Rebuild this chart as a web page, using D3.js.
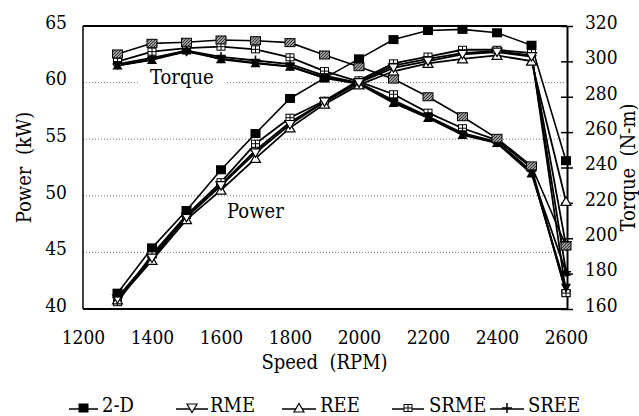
<!DOCTYPE html>
<html><head><meta charset="utf-8">
<script src="https://cdn.jsdelivr.net/npm/d3@7"></script>
<style>
html,body{margin:0;padding:0;background:#fff;}
</style></head>
<body><svg id="c" width="639" height="416"></svg>
<script>
const speed = [1300,1400,1500,1600,1700,1800,1900,2000,2100,2200,2300,2400,2500,2600];
const xTicks = [1200,1400,1600,1800,2000,2200,2400,2600];
const powerTicks = [40,45,50,55,60,65];
const torqueTicks = [160,180,200,220,240,260,280,300,320];
const gridValues = [45,50,55,60];

const seriesNames = ["2-D","RME","REE","SRME","SREE"];
const power2D   = [41.4,45.4,48.7,52.3,55.5,58.6,60.4,62.1,63.8,64.6,64.7,64.4,63.3,53.1];
const powerRME  = [40.9,44.5,48.1,50.9,53.8,56.3,58.3,60.0,61.3,61.9,62.5,62.7,62.3,45.6];
const powerREE  = [40.8,44.3,47.9,50.5,53.3,56.0,58.1,59.8,61.0,61.7,62.1,62.4,61.9,49.5];
const powerSRME = [40.6,44.8,48.3,51.2,54.6,56.9,58.4,60.2,61.7,62.3,62.9,62.9,62.6,41.4];
const powerSREE = [41.0,44.6,48.2,51.0,54.0,56.5,58.3,60.1,61.5,62.1,62.6,62.8,62.4,43.3];

const torque2D   = [304.2,310.2,310.8,312.1,311.7,310.6,303.6,297.0,290.0,280.0,268.7,256.5,240.9,195.6];
const torqueRME  = [297.8,301.0,305.5,301.5,299.2,297.2,291.0,287.5,277.0,268.5,258.8,254.0,237.0,172.0];
const torqueREE  = [297.6,300.8,306.2,301.2,298.9,297.0,290.6,287.3,276.5,268.0,258.4,253.8,236.6,181.0];
const torqueSRME = [299.8,305.5,307.5,308.3,306.8,302.3,294.5,288.5,281.4,271.0,262.2,255.5,240.0,169.0];
const torqueSREE = [298.5,302.0,306.0,302.5,300.5,298.5,292.0,287.8,278.0,269.0,259.5,254.5,238.0,170.0];

const FONT = "'DejaVu Serif Condensed', 'DejaVu Serif', serif";
const svg = d3.select("#c");
const L=83, R=566, T=26, B=309;
const x = d3.scaleLinear().domain([1200,2600]).range([L,R]);
const yP = d3.scaleLinear().domain([40,65]).range([B,T]);
const yT = d3.scaleLinear().domain([160,320]).range([B,T]);

const defs = svg.append("defs");
const pat = defs.append("pattern").attr("id","hatch").attr("patternUnits","userSpaceOnUse")
  .attr("width",3).attr("height",3);
pat.append("rect").attr("width",3).attr("height",3).attr("fill","#9a9a9a");
pat.append("path").attr("d","M0,3 L3,0 M-1,1 L1,-1 M2,4 L4,2").attr("stroke","#333").attr("stroke-width",1);

svg.append("g").selectAll("line").data(gridValues).join("line")
  .attr("x1",L).attr("x2",R).attr("y1",d=>yP(d)).attr("y2",d=>yP(d))
  .attr("stroke","#777").attr("stroke-width",1).attr("stroke-dasharray","1,2");

svg.append("line").attr("x1",L).attr("x2",R+1).attr("y1",T).attr("y2",T).attr("stroke","#000").attr("stroke-width",2);
svg.append("line").attr("x1",L).attr("x2",R+1).attr("y1",B).attr("y2",B).attr("stroke","#000").attr("stroke-width",2);
svg.append("line").attr("x1",L).attr("x2",L).attr("y1",T).attr("y2",B).attr("stroke","#000").attr("stroke-width",1.5);

function styleText(sel, size) {
  sel.style("font-family",FONT).style("font-stretch","condensed").style("font-size",size+"px").attr("fill","#000");
}

const gl = svg.append("g").attr("transform",`translate(${L},0)`)
  .call(d3.axisLeft(yP).tickValues(powerTicks).tickSize(0).tickPadding(16).tickFormat(d3.format("d")));
gl.select(".domain").remove();
styleText(gl.selectAll("text").attr("dy","0.12em"), 19);

const gb = svg.append("g").attr("transform",`translate(0,${B})`)
  .call(d3.axisBottom(x).tickValues(xTicks).tickSize(0).tickFormat(d3.format("d")));
gb.select(".domain").remove();
styleText(gb.selectAll("text").attr("y",35).attr("dy",0), 19);

const gr = svg.append("g").attr("transform",`translate(${R+1},0)`)
  .call(d3.axisRight(yT).tickValues(torqueTicks).tickSizeInner(6).tickSizeOuter(0).tickPadding(12).tickFormat(d3.format("d")));
gr.select(".domain").attr("stroke-width",2);
gr.selectAll(".tick line").attr("x1",-6).attr("x2",6).attr("stroke-width",1.5);
styleText(gr.selectAll("text").attr("dy","0.12em"), 19);

styleText(svg.append("text").attr("x",(L+R)/2).attr("y",369).attr("text-anchor","middle")
  .style("white-space","pre").text("Speed  (RPM)"), 20);
styleText(svg.append("text").attr("transform",`translate(31,${(T+B)/2}) rotate(-90)`).attr("text-anchor","middle")
  .style("white-space","pre").text("Power  (kW)"), 20);
styleText(svg.append("text").attr("transform",`translate(635,${(T+B)/2}) rotate(-90)`).attr("text-anchor","middle")
  .style("white-space","pre").text("Torque  (N-m)"), 20);

const powerSeries = [power2D,powerRME,powerREE,powerSRME,powerSREE];
const torqueSeries = [torque2D,torqueRME,torqueREE,torqueSRME,torqueSREE];
const powerMarkers = ["sqBlack","triDownOpen","triUpOpen","sqCross","plus"];
const torqueMarkers = ["sqHatch","triDownBlack","triUpBlack","sqCross","plus"];

const lineP = d3.line().x((d,i)=>x(speed[i])).y(d=>yP(d));
const lineT = d3.line().x((d,i)=>x(speed[i])).y(d=>yT(d));

svg.append("rect").attr("x",138).attr("y",64).attr("width",88).attr("height",28).attr("fill","#fff");

const gLines = svg.append("g");
for (let s=seriesNames.length-1; s>=0; s--) {
  gLines.append("path").attr("d",lineT(torqueSeries[s])).attr("fill","none").attr("stroke","#000").attr("stroke-width",s==0?1.6:1.8);
  gLines.append("path").attr("d",lineP(powerSeries[s])).attr("fill","none").attr("stroke","#000").attr("stroke-width",s==0?1.6:1.8);
}

function drawMarker(g, type, cx, cy) {
  if (type==="sqBlack") g.append("rect").attr("x",cx-5).attr("y",cy-4.5).attr("width",10).attr("height",9).attr("fill","#000");
  else if (type==="sqHatch") g.append("rect").attr("x",cx-5).attr("y",cy-4).attr("width",10).attr("height",8).attr("fill","url(#hatch)").attr("stroke","#000").attr("stroke-width",1);
  else if (type==="sqCross") {
    g.append("rect").attr("x",cx-4).attr("y",cy-3.5).attr("width",8).attr("height",7).attr("fill","#fff").attr("stroke","#000").attr("stroke-width",1);
    g.append("path").attr("d",`M${cx-4},${cy}H${cx+4}M${cx},${cy-3.5}V${cy+3.5}`).attr("stroke","#000").attr("stroke-width",1);
  }
  else if (type==="triUpOpen") g.append("path").attr("d",`M${cx},${cy-4.5}L${cx+5},${cy+4}L${cx-5},${cy+4}Z`).attr("fill","#fff").attr("stroke","#000").attr("stroke-width",1.2);
  else if (type==="triDownOpen") g.append("path").attr("d",`M${cx},${cy+4.5}L${cx+5},${cy-4}L${cx-5},${cy-4}Z`).attr("fill","#fff").attr("stroke","#000").attr("stroke-width",1.2);
  else if (type==="triUpBlack") g.append("path").attr("d",`M${cx},${cy-5}L${cx+5},${cy+4}L${cx-5},${cy+4}Z`).attr("fill","#000");
  else if (type==="triDownBlack") g.append("path").attr("d",`M${cx},${cy+5}L${cx+5},${cy-4}L${cx-5},${cy-4}Z`).attr("fill","#000");
  else if (type==="plus") g.append("path").attr("d",`M${cx-5},${cy}H${cx+5}M${cx},${cy-5}V${cy+5}`).attr("stroke","#000").attr("stroke-width",1.5);
}

const gM = svg.append("g");
for (let s=seriesNames.length-1; s>=0; s--) {
  torqueSeries[s].forEach((v,i)=>drawMarker(gM, torqueMarkers[s], x(speed[i]), yT(v)));
  powerSeries[s].forEach((v,i)=>drawMarker(gM, powerMarkers[s], x(speed[i]), yP(v)));
}

styleText(svg.append("text").attr("x",150).attr("y",84).text("Torque"), 20);
styleText(svg.append("text").attr("x",227).attr("y",218).text("Power"), 20);

const legendPos = [[69,98,102],[176,208,210],[282,316,320],[392,424,429],[490,524,528]];
const legendMarkers = ["sqBlack","triDownOpen","triUpOpen","sqCross","plus"];
const gLeg = svg.append("g");
seriesNames.forEach((n,i)=>{
  const [a,b,t] = legendPos[i];
  gLeg.append("line").attr("x1",a).attr("x2",b).attr("y1",409).attr("y2",409).attr("stroke","#000").attr("stroke-width",1.5);
  drawMarker(gLeg, legendMarkers[i], (a+b)/2, 408);
  styleText(gLeg.append("text").attr("x",t).attr("y",412).text(n), 20);
});
</script></body></html>
